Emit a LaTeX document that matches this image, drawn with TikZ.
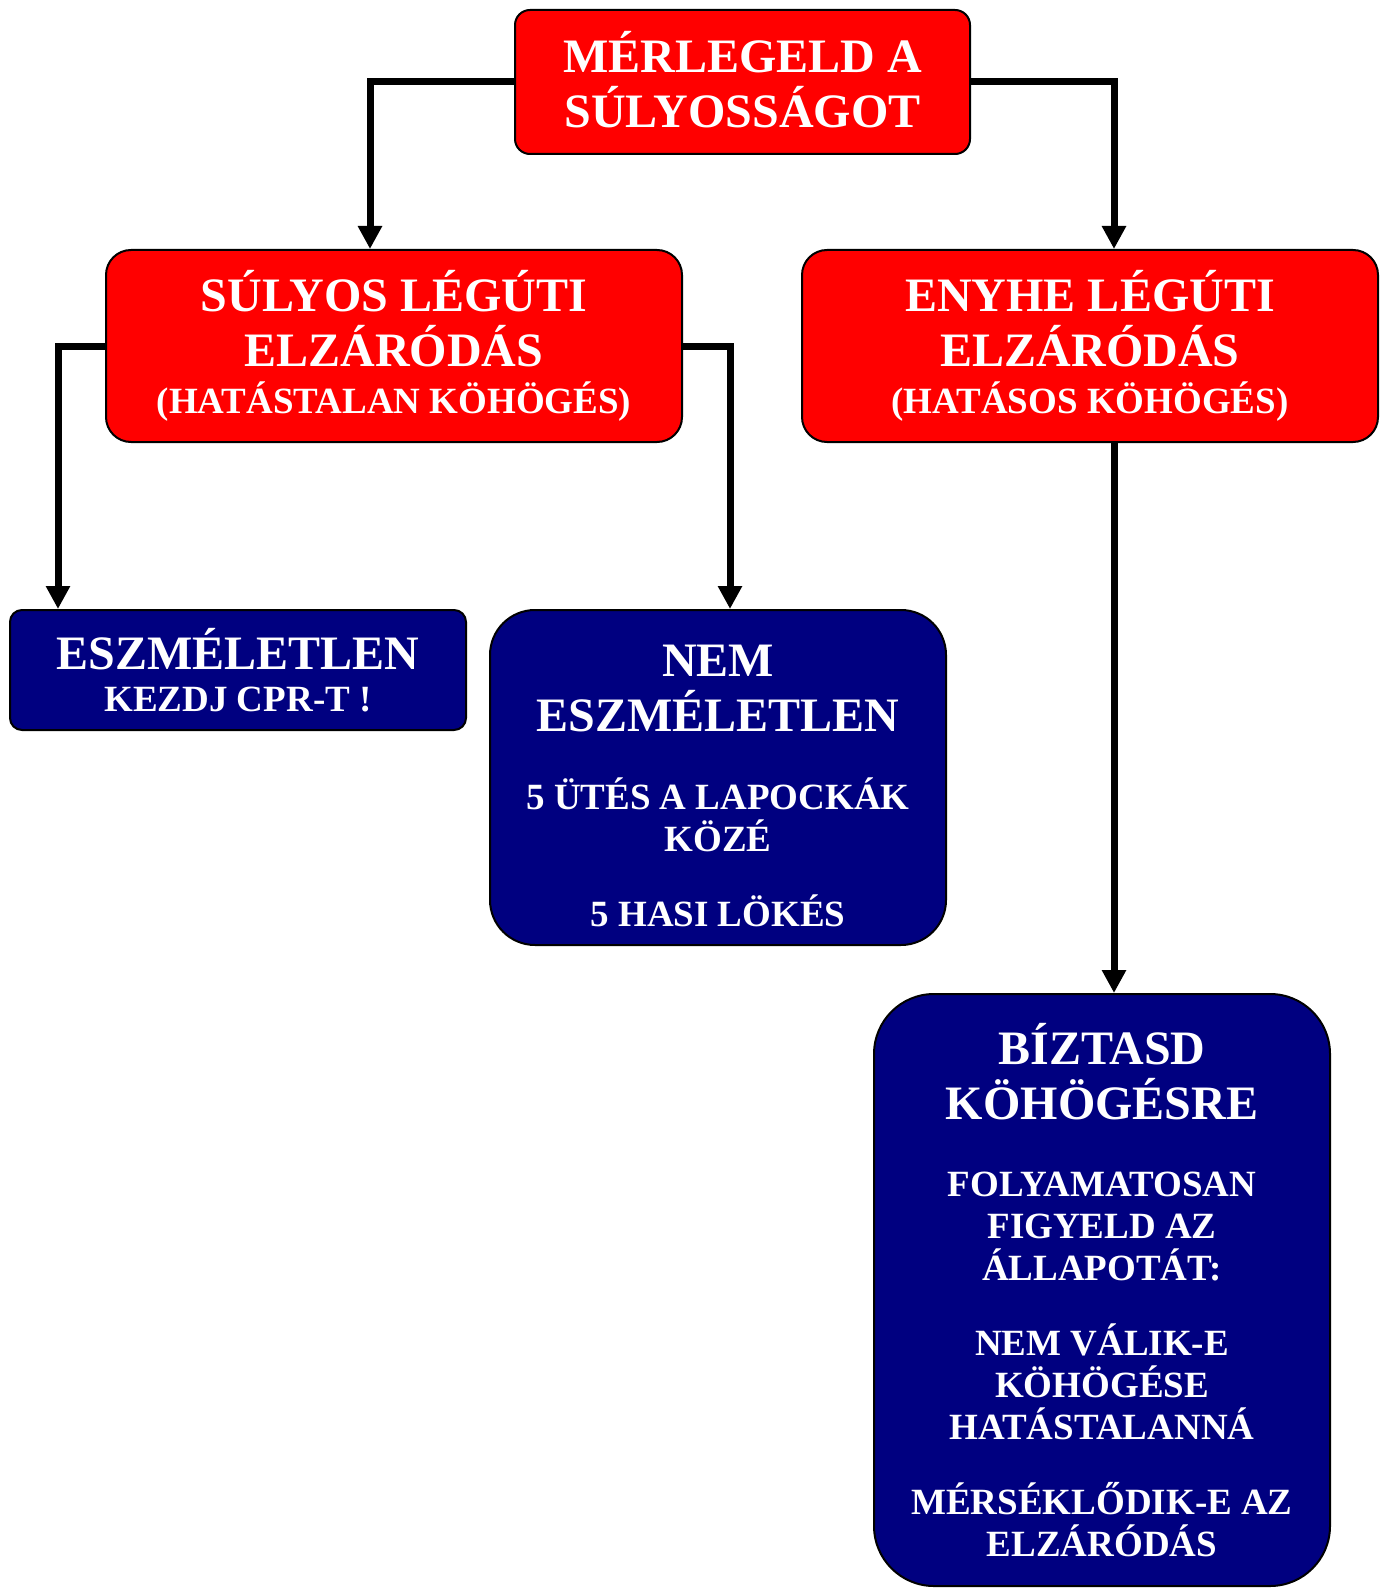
\documentclass[tikz,border=0pt]{standalone}
\usepackage{fontspec}
\setmainfont{Liberation Serif}
\usetikzlibrary{arrows.meta}
\setlength{\parindent}{0pt}
\newcommand{\BigLine}{\fontsize{48}{55}\selectfont\spaceskip=.25em\xspaceskip=.25em\relax}
\newcommand{\SmallLine}{\fontsize{37}{42}\selectfont\spaceskip=.25em\xspaceskip=.25em\relax}
\definecolor{navy}{RGB}{0,0,128}

\begin{document}
\begin{tikzpicture}[x=1pt, y=-1pt]
\tikzset{BoxStyle/.style = {draw = black, line width = 2pt, inner sep = 0pt,
                            align = center, text = white, font = \bfseries},
         RedBox/.style = {BoxStyle, fill = red},
         BlueBox/.style = {BoxStyle, fill = navy},
         EdgeStyle/.style = {line width = 7pt, -{Triangle[width=23pt,length=23pt]}}}
\useasboundingbox (0,0) rectangle (1383,1589);

\node[RedBox, rounded corners = 15pt, text width = 455pt, minimum height = 144pt]
  (Weigh) at (742.5,82) {\BigLine MÉRLEGELD A\\ SÚLYOSSÁGOT\par\vspace*{5pt}};

\node[RedBox, rounded corners = 25pt, text width = 576pt, minimum height = 192pt]
  (Severe) at (394,346) {{\BigLine SÚLYOS LÉGÚTI\\ ELZÁRÓDÁS\par}\vspace{5pt}%
  {\SmallLine (HATÁSTALAN KÖHÖGÉS)\par}};
\node[RedBox, rounded corners = 25pt, text width = 576pt, minimum height = 192pt]
  (Mild) at (1090,346) {{\BigLine ENYHE LÉGÚTI\\ ELZÁRÓDÁS\par}\vspace{5pt}%
  {\SmallLine (HATÁSOS KÖHÖGÉS)\par}};

\node[BlueBox, rounded corners = 12pt, text width = 456pt, minimum height = 120pt]
  (Uncon) at (238,670) {{\BigLine ESZMÉLETLEN\par}{\SmallLine KEZDJ CPR-T !\par}};
\node[BlueBox, rounded corners = 45pt, text width = 456pt, minimum height = 335pt]
  (Con) at (718,777.5) {{\BigLine NEM\\ ESZMÉLETLEN\par}\vspace{36pt}%
  {\SmallLine 5 ÜTÉS A LAPOCKÁK\\ KÖZÉ\par}\vspace{33pt}%
  {\SmallLine 5 HASI LÖKÉS\par}\vspace{-16pt}};

\node[BlueBox, rounded corners = 60pt, text width = 456pt, minimum height = 592pt]
  (Cough) at (1102,1290) {{\BigLine BÍZTASD\\ KÖHÖGÉSRE\par}\vspace{35pt}%
  {\SmallLine FOLYAMATOSAN\\ FIGYELD AZ\\ ÁLLAPOTÁT:\par}\vspace{33pt}%
  {\SmallLine NEM VÁLIK-E\\ KÖHÖGÉSE\\ HATÁSTALANNÁ\par}\vspace{33pt}%
  {\SmallLine MÉRSÉKLŐDIK-E AZ\\ ELZÁRÓDÁS\par}};

\draw[EdgeStyle] (Weigh.west) -| ([xshift=-24pt]Severe.north);
\draw[EdgeStyle] (Weigh.east) -| ([xshift=24pt]Mild.north);
\draw[EdgeStyle] (Severe.west) -| ([xshift=-180pt]Uncon.north);
\draw[EdgeStyle] (Severe.east) -| ([xshift=12pt]Con.north);
\draw[EdgeStyle] ([xshift=24pt]Mild.south) -- ([xshift=12pt]Cough.north);

\end{tikzpicture}
\end{document}
